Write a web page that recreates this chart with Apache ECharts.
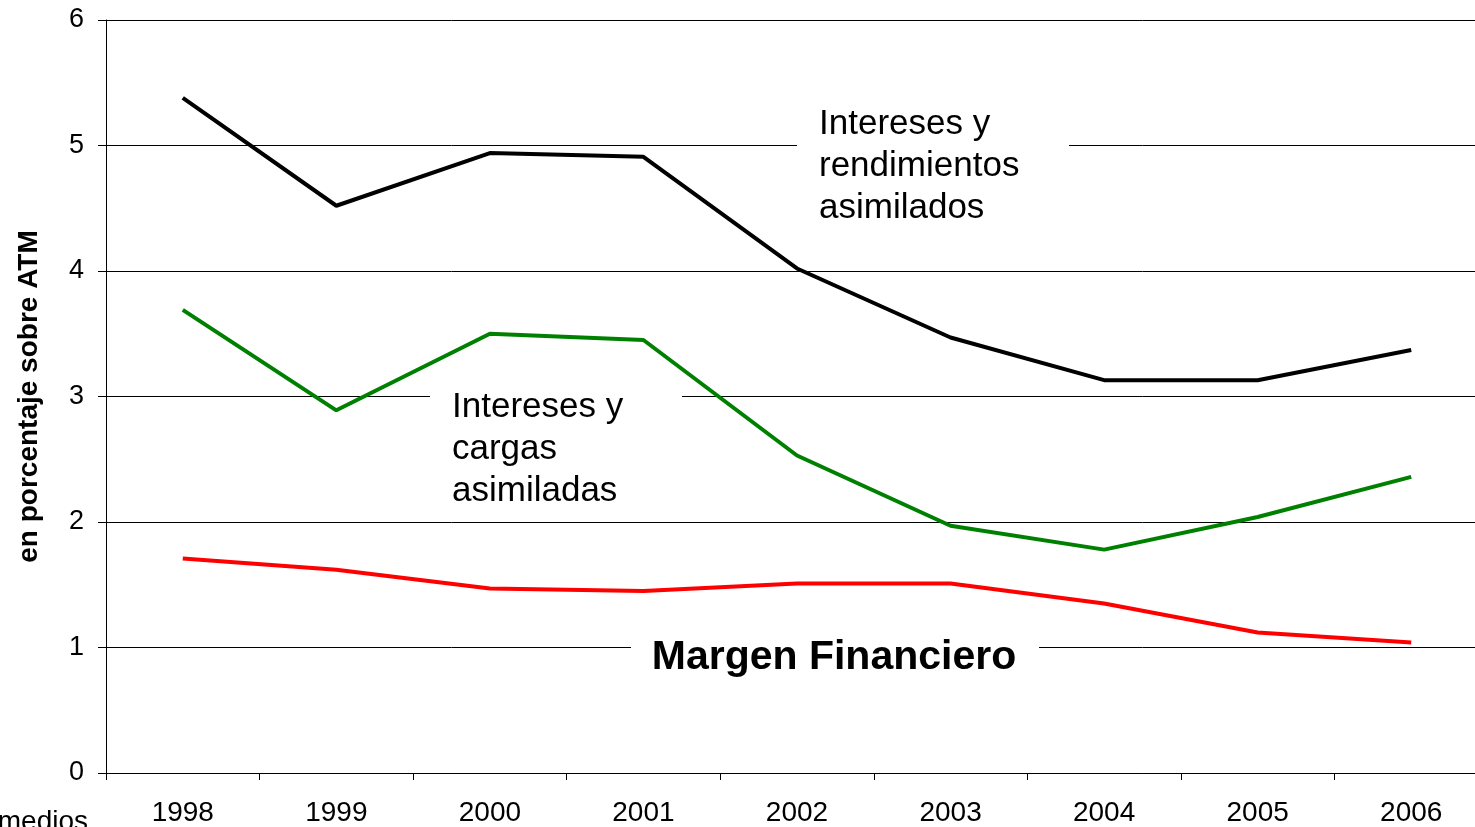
<!DOCTYPE html>
<html>
<head>
<meta charset="utf-8">
<script src="https://cdn.jsdelivr.net/npm/echarts@6/dist/echarts.min.js"></script>
<style>
  html, body { margin: 0; padding: 0; background: #fff; overflow: hidden; }
  /* el grafico original corta la ultima categoria por la derecha */
  #chart { width: 1488px; height: 827px; }
</style>
</head>
<body>
<div id="chart"></div>
<script>
// datos (en % sobre ATM)
var years = ['1998', '1999', '2000', '2001', '2002', '2003', '2004', '2005', '2006'];
var rendimientos = [5.38, 4.52, 4.94, 4.91, 4.02, 3.47, 3.13, 3.13, 3.37];
var cargas = [3.69, 2.89, 3.50, 3.45, 2.53, 1.97, 1.78, 2.04, 2.36];
var margen = [1.71, 1.62, 1.47, 1.45, 1.51, 1.51, 1.35, 1.12, 1.04];
var yTicks = [0, 1, 2, 3, 4, 5, 6];

var fontName = '"Liberation Sans", Arial, sans-serif';
var chart = echarts.init(document.getElementById('chart'));

// caja blanca + texto, tapa la linea de la rejilla
function label(box, lines, txt) {
  return {
    type: 'group',
    children: [
      { type: 'rect', z: 2, shape: box, style: { fill: '#fff' } },
      {
        type: 'text',
        z: 2,
        x: txt.x, y: txt.y,
        style: {
          text: lines,
          fill: '#000',
          fontFamily: fontName,
          fontSize: txt.size,
          fontWeight: txt.bold ? 'bold' : 'normal',
          lineHeight: txt.lh,
          textAlign: txt.align || 'left',
          textVerticalAlign: 'top'
        }
      }
    ]
  };
}

var option = {
  animation: false,
  backgroundColor: '#fff',
  textStyle: { fontFamily: fontName },
  grid: { left: 106, top: 20, right: 0, bottom: 54, containLabel: false },
  xAxis: {
    type: 'category',
    data: years,
    boundaryGap: true,
    axisLine: { lineStyle: { color: '#000', width: 1 } },
    axisTick: { show: true, length: 7, interval: 0, lineStyle: { color: '#000' } },
    axisLabel: { color: '#000', fontSize: 28, margin: 26, interval: 0 },
    splitLine: { show: false }
  },
  yAxis: {
    type: 'value',
    min: yTicks[0],
    max: yTicks[yTicks.length - 1],
    interval: 1,
    name: 'en porcentaje sobre ATM',
    nameLocation: 'middle',
    nameRotate: 90,
    nameGap: 63,
    nameTextStyle: { color: '#000', fontSize: 28, fontWeight: 'bold' },
    axisLine: { show: true, lineStyle: { color: '#000', width: 1 } },
    axisTick: { show: true, length: 8, lineStyle: { color: '#000' } },
    axisLabel: { color: '#000', fontSize: 27, margin: 22 },
    splitLine: { show: true, lineStyle: { color: '#000', width: 1 } }
  },
  series: [
    {
      name: 'Intereses y rendimientos asimilados',
      type: 'line',
      data: rendimientos,
      symbol: 'none',
      z: 5,
      lineStyle: { color: '#000', width: 4 }
    },
    {
      name: 'Intereses y cargas asimiladas',
      type: 'line',
      data: cargas,
      symbol: 'none',
      z: 5,
      lineStyle: { color: '#008000', width: 4 }
    },
    {
      name: 'Margen Financiero',
      type: 'line',
      data: margen,
      symbol: 'none',
      z: 5,
      lineStyle: { color: '#ff0000', width: 4 }
    }
  ],
  graphic: [
    label({ x: 797, y: 100, width: 272, height: 130 },
      'Intereses y\nrendimientos\nasimilados',
      { x: 819, y: 103, size: 35, lh: 42 }),
    label({ x: 430, y: 382, width: 252, height: 128 },
      'Intereses y\ncargas\nasimiladas',
      { x: 452, y: 386, size: 35, lh: 42 }),
    label({ x: 631, y: 630, width: 408, height: 52 },
      'Margen Financiero',
      { x: 834, y: 636, size: 41, lh: 44, bold: true, align: 'center' }),
    {
      type: 'text',
      x: 88, y: 808,
      style: {
        text: 'medios',
        fill: '#000',
        fontFamily: fontName,
        fontSize: 28,
        textAlign: 'right',
        textVerticalAlign: 'top'
      }
    }
  ]
};

chart.setOption(option);
</script>
</body>
</html>
